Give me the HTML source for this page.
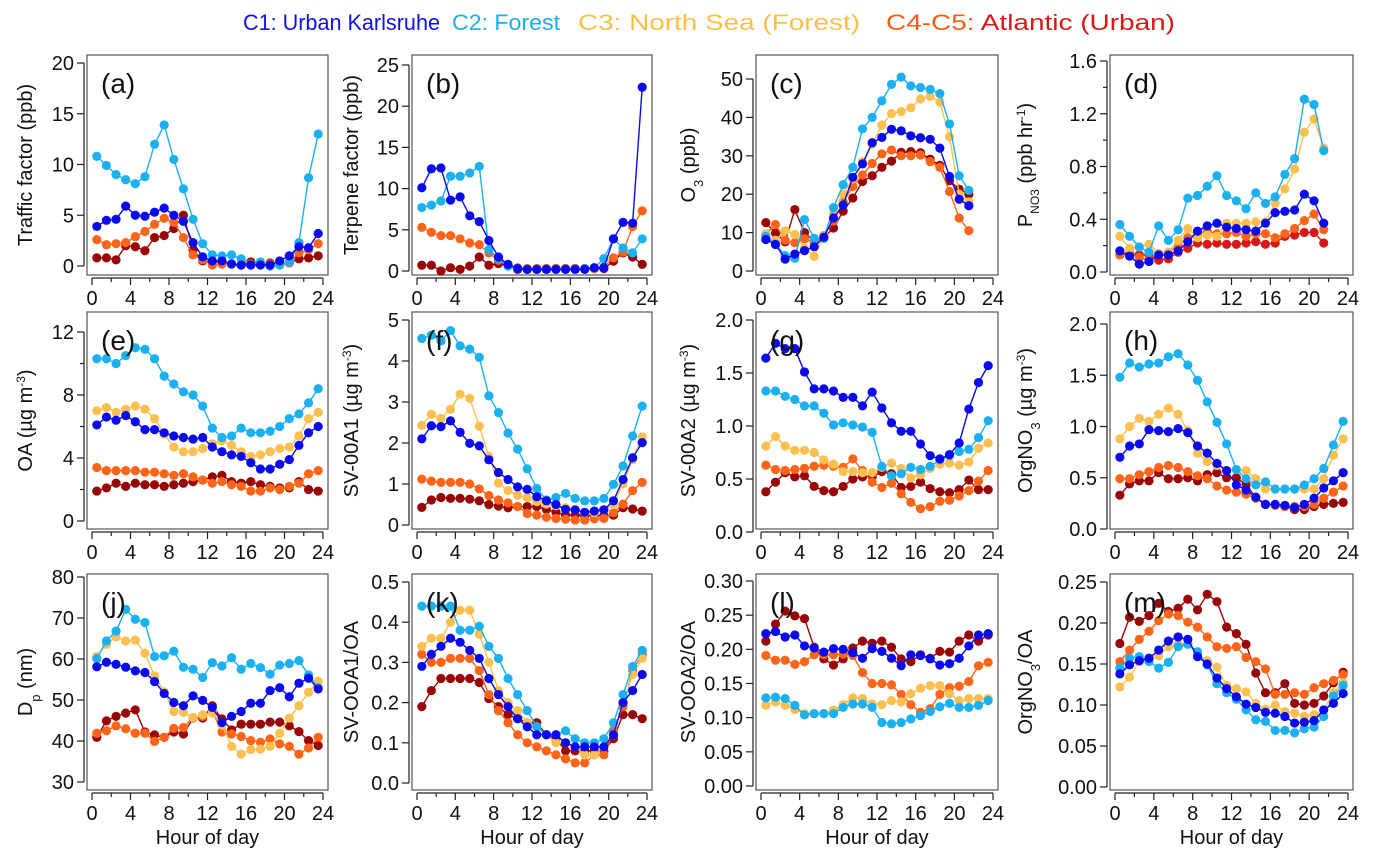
<!DOCTYPE html>
<html><head><meta charset="utf-8"><style>
html,body{margin:0;padding:0;background:#fff;}
svg{display:block;font-family:"Liberation Sans",Arial,sans-serif;}
</style></head><body>
<svg id="chart" width="1373" height="866" viewBox="0 0 1373 866" xmlns="http://www.w3.org/2000/svg">
<g font-size="22">
<text x="243" y="30" textLength="197" lengthAdjust="spacingAndGlyphs" fill="#1010ee">C1: Urban Karlsruhe</text>
<text x="452" y="30" textLength="108" lengthAdjust="spacingAndGlyphs" fill="#19aff0">C2: Forest</text>
<text x="578" y="30" textLength="282" lengthAdjust="spacingAndGlyphs" fill="#fdbf4a">C3: North Sea (Forest)</text>
<text x="886" y="30" textLength="289" lengthAdjust="spacingAndGlyphs"><tspan fill="#ff5a10">C4-C5: </tspan><tspan fill="#d81818">Atlantic (Urban)</tspan></text>
</g>
</svg>
<script>
const hours = [0.5,1.5,2.5,3.5,4.5,5.5,6.5,7.5,8.5,9.5,10.5,11.5,12.5,13.5,14.5,15.5,16.5,17.5,18.5,19.5,20.5,21.5,22.5,23.5];
const xTicks = [0,4,8,12,16,20,24];
// (a) traffic factor
const a_c1 = [3.9,4.5,4.6,5.9,5.0,4.9,5.3,5.7,5.0,4.4,2.3,0.9,0.5,0.5,0.2,0.1,0.1,0.1,0.1,0.5,1.0,1.9,1.8,3.2];
const a_c2 = [10.8,9.9,9.0,8.5,8.1,8.8,12,13.9,10.5,7.6,4.6,2.2,1.1,1.0,1.1,0.7,0.1,0.4,0.0,0.1,0.4,2.3,8.7,13.0];
const a_c3 = [];
const a_c4 = [2.6,2.1,2.2,2.3,2.9,3.4,4.1,4.7,4.3,2.8,1.1,0.6,0.1,0.2,0.2,0.1,0.2,0.3,0.2,0.1,0.3,1.3,1.6,2.2];
const a_c5 = [0.8,0.8,0.6,2.0,1.9,1.5,2.8,3.0,3.7,5.0,1.6,0.5,0.4,0.4,0.2,0.1,0.4,0.2,0.3,0.2,0.3,0.7,0.8,1.0];
// (b) terpene factor
const b_c1 = [10.1,12.4,12.5,8.6,9.0,6.7,6.0,3.7,1.7,0.8,0.3,0.2,0.2,0.2,0.2,0.2,0.2,0.2,0.4,0.4,3.9,5.9,5.8,22.3];
const b_c2 = [7.7,8.0,8.5,11.5,11.5,11.9,12.7,2.6,1.5,0.6,0.3,0.2,0.2,0.2,0.2,0.2,0.2,0.3,0.4,1.5,3.9,2.8,2.2,3.9];
const b_c3 = [];
const b_c4 = [5.3,4.7,4.3,4.3,3.9,3.4,3.2,2.2,1.3,0.7,0.4,0.3,0.3,0.3,0.3,0.3,0.3,0.3,0.3,0.5,1.6,2.3,5.4,7.3];
const b_c5 = [0.7,0.7,0.0,0.4,0.2,0.6,1.7,0.7,0.9,0.6,0.2,0.2,0.2,0.3,0.3,0.3,0.3,0.3,0.3,0.3,1.2,2.2,1.7,0.8];
// (c) O3
const c_c1 = [8.2,6.9,3.1,4.4,5.3,6.3,8.8,13.8,17.2,24.4,27.9,33.4,34.8,36.9,36.5,35.2,34.7,34.3,32,24.6,18.7,17];
const c_c2 = [9,7,4,3.3,13.4,8.5,8.5,16.5,22.5,27,37,40,44.3,48.6,50.5,48.2,47.8,47.3,46.2,38.3,24.8,21];
const c_c3 = [9.5,8,10.5,9.5,6,3.8,9,15,20,24,28.5,33,38,41,41.5,42.5,44.8,45.5,44,35,20,18];
const c_c4 = [9.6,12.1,8,7.4,8.4,7.5,9.2,13,18,22,25,28,30.5,31.5,30,30,30.2,28.5,27,20.7,13.8,10.5];
const c_c5 = [12.6,9.9,7.6,16,10,7.7,8.7,11.2,15.6,19,23.3,24.8,27,28.6,30.9,31.1,30.8,29.1,27.5,23.5,21.3,20];
// (d) P_NO3
const d_c1 = [0.16,0.12,0.06,0.08,0.13,0.13,0.16,0.23,0.31,0.35,0.37,0.34,0.33,0.32,0.31,0.37,0.45,0.46,0.47,0.59,0.54,0.37];
const d_c2 = [0.36,0.27,0.19,0.15,0.35,0.24,0.32,0.56,0.58,0.65,0.73,0.58,0.54,0.48,0.60,0.52,0.57,0.74,0.86,1.31,1.27,0.92];
const d_c3 = [0.27,0.18,0.19,0.21,0.14,0.15,0.24,0.33,0.26,0.28,0.27,0.37,0.37,0.37,0.38,0.38,0.52,0.63,0.78,1.06,1.16,0.94];
const d_c4 = [0.13,0.14,0.11,0.09,0.14,0.15,0.20,0.26,0.29,0.31,0.29,0.29,0.30,0.27,0.29,0.29,0.26,0.29,0.33,0.39,0.44,0.32];
const d_c5 = [0.13,0.14,0.13,0.13,0.09,0.10,0.15,0.18,0.22,0.21,0.22,0.21,0.21,0.22,0.23,0.21,0.22,0.27,0.28,0.30,0.30,0.22];
// (e) OA
const e_c1 = [6.1,6.6,6.4,6.7,6.3,5.8,5.8,5.6,5.4,5.3,5.2,5.3,4.7,4.4,4.2,4.1,3.7,3.3,3.3,3.6,3.9,4.8,5.6,6.0];
const e_c2 = [10.3,10.3,10.0,10.5,11.0,10.9,10.3,9.2,8.7,8.2,8.0,7.3,5.9,5.3,5.4,5.9,5.6,5.6,5.7,6.0,6.5,6.8,7.5,8.4];
const e_c3 = [7.0,7.2,6.9,7.1,7.3,7.1,6.5,5.5,4.7,4.4,4.4,4.6,4.9,5.1,4.8,4.4,4.1,4.2,4.4,4.6,4.7,5.4,6.5,6.9];
const e_c4 = [3.4,3.2,3.2,3.2,3.2,3.1,3.1,3.0,2.9,3.0,2.8,2.6,2.4,2.5,2.3,2.2,1.9,1.9,2.1,2.0,2.2,2.4,3.0,3.2];
const e_c5 = [1.9,2.1,2.4,2.2,2.4,2.3,2.3,2.2,2.3,2.4,2.5,2.6,2.8,2.9,2.5,2.4,2.5,2.3,2.2,2.1,2.1,2.5,2.0,1.9];
// (f) SV-OOA1
const f_c1 = [2.10,2.42,2.40,2.54,2.26,1.99,1.93,1.59,1.28,1.11,0.93,0.87,0.69,0.59,0.50,0.38,0.37,0.31,0.34,0.37,0.59,1.11,1.64,2.01];
const f_c2 = [4.55,4.63,4.49,4.74,4.37,4.29,4.09,3.15,2.74,2.24,1.85,1.37,0.89,0.61,0.67,0.77,0.65,0.59,0.59,0.65,0.99,1.44,2.17,2.90];
const f_c3 = [2.43,2.70,2.60,2.82,3.19,3.09,2.41,1.67,1.02,0.84,0.73,0.67,0.57,0.51,0.47,0.42,0.37,0.30,0.30,0.37,0.50,1.00,1.59,2.15];
const f_c4 = [1.12,1.07,1.04,1.04,1.04,1.00,0.88,0.72,0.61,0.54,0.45,0.28,0.24,0.19,0.16,0.14,0.12,0.12,0.15,0.16,0.30,0.51,0.84,1.04];
const f_c5 = [0.43,0.61,0.67,0.65,0.65,0.63,0.59,0.50,0.46,0.42,0.45,0.45,0.45,0.38,0.31,0.24,0.24,0.23,0.23,0.23,0.24,0.42,0.39,0.34];
// (g) SV-OOA2
const g_c1 = [1.64,1.78,1.73,1.73,1.51,1.35,1.35,1.33,1.27,1.27,1.19,1.32,1.17,1.03,0.95,0.95,0.83,0.72,0.69,0.73,0.84,1.16,1.41,1.57];
const g_c2 = [1.33,1.33,1.28,1.25,1.19,1.19,1.12,1.01,1.03,1.01,0.99,0.94,0.62,0.53,0.55,0.61,0.59,0.62,0.68,0.72,0.76,0.78,0.89,1.05];
const g_c3 = [0.81,0.90,0.81,0.77,0.77,0.75,0.68,0.64,0.57,0.57,0.56,0.56,0.61,0.65,0.60,0.51,0.54,0.60,0.64,0.65,0.63,0.66,0.79,0.84];
const g_c4 = [0.63,0.59,0.58,0.59,0.60,0.62,0.63,0.62,0.61,0.69,0.58,0.47,0.42,0.46,0.36,0.28,0.22,0.24,0.29,0.30,0.34,0.39,0.48,0.58];
const g_c5 = [0.38,0.47,0.56,0.52,0.53,0.43,0.39,0.38,0.43,0.50,0.52,0.52,0.57,0.55,0.42,0.43,0.47,0.41,0.38,0.37,0.40,0.49,0.40,0.40];
// (h) OrgNO3
const h_c1 = [0.70,0.81,0.83,0.97,0.96,0.95,0.98,0.94,0.81,0.74,0.64,0.57,0.43,0.38,0.31,0.24,0.24,0.23,0.21,0.24,0.30,0.40,0.47,0.55];
const h_c2 = [1.48,1.62,1.58,1.61,1.62,1.68,1.71,1.60,1.45,1.24,1.04,0.83,0.58,0.49,0.43,0.46,0.39,0.39,0.39,0.43,0.49,0.59,0.82,1.05];
const h_c3 = [0.88,1.00,1.08,1.05,1.12,1.18,1.12,0.96,0.74,0.66,0.62,0.57,0.58,0.57,0.49,0.39,0.39,0.39,0.39,0.39,0.39,0.49,0.72,0.88];
const h_c4 = [0.49,0.49,0.53,0.56,0.60,0.62,0.60,0.56,0.52,0.49,0.42,0.38,0.36,0.34,0.30,0.24,0.23,0.22,0.22,0.22,0.24,0.30,0.36,0.42];
const h_c5 = [0.33,0.44,0.47,0.47,0.55,0.49,0.49,0.50,0.47,0.53,0.55,0.50,0.50,0.43,0.31,0.24,0.23,0.22,0.19,0.19,0.22,0.24,0.25,0.26];
// (j) Dp
const j_c1 = [58.1,59.2,58.7,58.0,57.1,56.7,54.5,51.6,49.4,48.6,51.0,49.9,48.2,44.5,46.0,47.2,49.2,49.2,52.3,53.0,50.8,54.1,55.3,52.7];
const j_c2 = [60.1,64.4,66.8,72.1,69.7,68.9,60.6,60.8,61.9,58.0,57.5,55.5,59.1,58.3,60.3,57.5,58.9,57.9,56.3,58.5,58.9,59.6,56.1,53.0];
const j_c3 = [60.6,63.6,65.4,64.4,64.6,61.4,55.9,52.0,47.2,47.0,45.7,46.4,46.8,43.9,38.7,36.8,37.9,38.0,38.7,41.9,45.6,48.6,51.9,54.6];
const j_c4 = [41.9,42.5,43.7,43.0,41.9,41.9,39.9,40.9,43.1,43.3,45.7,46.0,47.2,42.2,41.7,41.1,40.1,39.7,40.5,39.3,38.7,36.8,38.3,40.9];
const j_c5 = [40.9,44.9,46.0,46.8,47.6,42.2,41.5,40.9,42.2,41.7,45.6,45.6,48.6,45.4,42.7,44.1,44.1,44.1,44.6,44.6,43.7,42.3,40.1,38.9];
// (k) SV-OOA1/OA
const k_c1 = [0.29,0.32,0.34,0.36,0.35,0.33,0.31,0.26,0.22,0.19,0.16,0.14,0.12,0.12,0.12,0.10,0.09,0.09,0.09,0.09,0.12,0.20,0.23,0.27];
const k_c2 = [0.44,0.44,0.44,0.44,0.38,0.38,0.39,0.34,0.31,0.26,0.22,0.18,0.14,0.12,0.12,0.13,0.11,0.10,0.10,0.11,0.15,0.22,0.29,0.33];
const k_c3 = [0.34,0.36,0.36,0.40,0.43,0.43,0.37,0.30,0.23,0.20,0.18,0.15,0.14,0.12,0.10,0.10,0.09,0.07,0.07,0.09,0.12,0.20,0.27,0.31];
const k_c4 = [0.32,0.30,0.30,0.31,0.31,0.31,0.28,0.22,0.18,0.15,0.12,0.10,0.09,0.08,0.07,0.06,0.05,0.05,0.07,0.07,0.13,0.19,0.28,0.32];
const k_c5 = [0.19,0.23,0.26,0.26,0.26,0.26,0.25,0.21,0.19,0.17,0.16,0.15,0.15,0.12,0.11,0.08,0.08,0.08,0.08,0.08,0.11,0.17,0.17,0.16];
// (l) SV-OOA2/OA
const l_c1 = [0.223,0.226,0.218,0.221,0.205,0.202,0.196,0.201,0.200,0.195,0.187,0.201,0.197,0.187,0.176,0.192,0.191,0.186,0.177,0.179,0.187,0.205,0.221,0.223];
const l_c2 = [0.129,0.130,0.128,0.118,0.104,0.106,0.106,0.106,0.115,0.120,0.120,0.115,0.093,0.091,0.093,0.098,0.103,0.109,0.116,0.121,0.115,0.115,0.118,0.125];
const l_c3 = [0.118,0.123,0.118,0.112,0.106,0.106,0.106,0.111,0.119,0.129,0.128,0.120,0.119,0.125,0.123,0.135,0.143,0.147,0.147,0.135,0.125,0.128,0.128,0.128];
const l_c4 = [0.191,0.184,0.184,0.178,0.182,0.192,0.192,0.192,0.193,0.191,0.166,0.150,0.150,0.148,0.134,0.119,0.108,0.113,0.134,0.144,0.146,0.153,0.176,0.181];
const l_c5 = [0.212,0.237,0.256,0.249,0.245,0.203,0.186,0.177,0.186,0.202,0.212,0.209,0.212,0.203,0.186,0.182,0.192,0.187,0.197,0.196,0.212,0.221,0.212,0.221];
// (m) OrgNO3/OA
const m_c1 = [0.138,0.149,0.154,0.157,0.167,0.178,0.183,0.180,0.159,0.150,0.133,0.120,0.110,0.101,0.097,0.091,0.090,0.086,0.078,0.079,0.081,0.094,0.102,0.114];
const m_c2 = [0.145,0.157,0.159,0.153,0.145,0.152,0.171,0.174,0.165,0.149,0.126,0.115,0.107,0.094,0.082,0.080,0.069,0.069,0.066,0.071,0.073,0.086,0.111,0.124];
const m_c3 = [0.122,0.134,0.153,0.154,0.160,0.171,0.174,0.175,0.161,0.154,0.146,0.124,0.120,0.116,0.102,0.095,0.100,0.092,0.090,0.086,0.088,0.094,0.115,0.127];
const m_c4 = [0.153,0.167,0.180,0.190,0.203,0.211,0.209,0.201,0.195,0.183,0.171,0.169,0.171,0.158,0.153,0.144,0.113,0.113,0.115,0.113,0.121,0.126,0.130,0.137];
const m_c5 = [0.175,0.207,0.202,0.209,0.224,0.214,0.218,0.229,0.216,0.235,0.226,0.195,0.187,0.174,0.139,0.115,0.115,0.126,0.102,0.100,0.102,0.111,0.127,0.140];

const NS = 'http://www.w3.org/2000/svg';
const svg = document.getElementById('chart');
function mk(tag, attrs, parent){ const e=document.createElementNS(NS,tag); for(const k in attrs) e.setAttribute(k,attrs[k]); (parent||svg).appendChild(e); return e; }

const cols = [[87,328],[412,652],[756,998],[1110,1353]];
const rows = [[55,275],[312,529],[574,790]];
const colors = ['#0a0af0','#1ab0f2','#fdc050','#ff6418','#9a0606'];
const colorsD = ['#0a0af0','#1ab0f2','#fdc050','#ff6418','#d81818'];
const labelX = [32,358,695,1032];

const panels = [
 {id:'a',c:0,r:0,min:0,max:20,p0:266,p1:63,ticks:[0,5,10,15,20],dec:0,ylab:'Traffic factor (ppb)',s:[a_c1,a_c2,a_c3,a_c4,a_c5]},
 {id:'b',c:1,r:0,min:0,max:25,p0:271,p1:65,ticks:[0,5,10,15,20,25],dec:0,ylab:'Terpene factor (ppb)',s:[b_c1,b_c2,b_c3,b_c4,b_c5]},
 {id:'c',c:2,r:0,min:0,max:50,p0:271,p1:79,ticks:[0,10,20,30,40,50],dec:0,ylab:'O<tspan baseline-shift="sub" font-size="13">3</tspan> (ppb)',s:[c_c1,c_c2,c_c3,c_c4,c_c5]},
 {id:'d',c:3,r:0,min:0,max:1.6,p0:272,p1:61,ticks:[0,0.4,0.8,1.2,1.6],minor:0.2,dec:1,ylab:'P<tspan baseline-shift="sub" font-size="12">NO3</tspan> (ppb hr<tspan baseline-shift="super" font-size="12">-1</tspan>)',s:[d_c1,d_c2,d_c3,d_c4,d_c5],dcol:true},
 {id:'e',c:0,r:1,min:0,max:12,p0:521,p1:332,ticks:[0,4,8,12],minor:2,dec:0,ylab:'OA (µg m<tspan baseline-shift="super" font-size="12">-3</tspan>)',s:[e_c1,e_c2,e_c3,e_c4,e_c5]},
 {id:'f',c:1,r:1,min:0,max:5,p0:525,p1:320,ticks:[0,1,2,3,4,5],dec:0,ylab:'SV-00A1 (µg m<tspan baseline-shift="super" font-size="12">-3</tspan>)',s:[f_c1,f_c2,f_c3,f_c4,f_c5]},
 {id:'g',c:2,r:1,min:0,max:2,p0:532,p1:320,ticks:[0,0.5,1,1.5,2],dec:1,ylab:'SV-00A2 (µg m<tspan baseline-shift="super" font-size="12">-3</tspan>)',s:[g_c1,g_c2,g_c3,g_c4,g_c5]},
 {id:'h',c:3,r:1,min:0,max:2,p0:529,p1:324,ticks:[0,0.5,1,1.5,2],dec:1,ylab:'OrgNO<tspan baseline-shift="sub" font-size="13">3</tspan> (µg m<tspan baseline-shift="super" font-size="12">-3</tspan>)',s:[h_c1,h_c2,h_c3,h_c4,h_c5]},
 {id:'j',c:0,r:2,min:30,max:80,p0:782,p1:577,ticks:[30,40,50,60,70,80],dec:0,ylab:'D<tspan baseline-shift="sub" font-size="13">p</tspan> (nm)',s:[j_c1,j_c2,j_c3,j_c4,j_c5]},
 {id:'k',c:1,r:2,min:0,max:0.5,p0:783,p1:582,ticks:[0,0.1,0.2,0.3,0.4,0.5],dec:1,ylab:'SV-OOA1/OA',s:[k_c1,k_c2,k_c3,k_c4,k_c5]},
 {id:'l',c:2,r:2,min:0,max:0.3,p0:786,p1:581,ticks:[0,0.05,0.1,0.15,0.2,0.25,0.3],dec:2,ylab:'SV-OOA2/OA',s:[l_c1,l_c2,l_c3,l_c4,l_c5]},
 {id:'m',c:3,r:2,min:0,max:0.25,p0:787,p1:582,ticks:[0,0.05,0.1,0.15,0.2,0.25],dec:2,ylab:'OrgNO<tspan baseline-shift="sub" font-size="13">3</tspan>/OA',s:[m_c1,m_c2,m_c3,m_c4,m_c5]}
];
const seriesNames=['c1-urban-karlsruhe','c2-forest','c3-north-sea','c4-atlantic','c5-atlantic-urban'];
const drawOrder=[4,3,2,1,0];

panels.forEach(P=>{
  const L=cols[P.c][0], R=cols[P.c][1], T=rows[P.r][0], B=rows[P.r][1];
  const xs = v => (L+5) + v/24*((R-5)-(L+5));
  const ys = v => P.p0 + (v-P.min)/(P.max-P.min)*(P.p1-P.p0);
  const g = mk('g',{});
  
  
  const box = mk('rect',{x:L,y:T,width:R-L,height:B-T,fill:'none',stroke:'#555','stroke-width':1.2},g);
  
  
  const ax = mk('g',{stroke:'#222','stroke-width':1.2},g);
  
  
  const xa=B+3;
  mk('line',{x1:xs(0),x2:xs(24),y1:xa,y2:xa},ax);
  for(let h=0;h<=24;h+=2){ mk('line',{x1:xs(h),x2:xs(h),y1:xa,y2:xa+(h%4===0?7:4)},ax); }
  xTicks.forEach(t=>{
    const tx=mk('text',{x:xs(t),y:B+30,'text-anchor':'middle','font-size':20,fill:'#111',stroke:'none'},g);
    
    
    tx.textContent=t;
  });
  const ay = mk('g',{stroke:'#222','stroke-width':1.2},g);
  
  
  const yx=L-3;
  mk('line',{x1:yx,x2:yx,y1:ys(P.min),y2:ys(P.max)},ay);
  P.ticks.forEach(t=>{
    mk('line',{x1:yx-7,x2:yx,y1:ys(t),y2:ys(t)},ay);
    const tx=mk('text',{x:yx-10,y:ys(t)+7,'text-anchor':'end','font-size':20,fill:'#111',stroke:'none'},g);
    
    
    tx.textContent=t.toFixed(P.dec);
  });
  if(P.minor){ for(let v=P.min+P.minor; v<P.max; v+=P.minor*2){ mk('line',{x1:yx-4,x2:yx,y1:ys(v),y2:ys(v)},ay);} }
  const cy=(T+B)/2;
  const yt=mk('text',{x:labelX[P.c],y:cy,'text-anchor':'middle','font-size':20,fill:'#111',transform:'rotate(-90 '+labelX[P.c]+' '+cy+')'},g);
  
  
  yt.innerHTML=P.ylab;
  if(P.r===2){
    const xt=mk('text',{x:(L+R)/2,y:B+54,'text-anchor':'middle','font-size':20,fill:'#111'},g);
    
    
    xt.textContent='Hour of day';
  }
  drawOrder.forEach(si=>{
    const arr=P.s[si]; if(!arr.length) return;
    const col=(P.dcol?colorsD:colors)[si];
    const sg=mk('g',{},g);
    
    
    const pts=arr.map((v,i)=>xs(hours[i]).toFixed(1)+','+ys(v).toFixed(1)).join(' ');
    mk('polyline',{points:pts,fill:'none',stroke:col,'stroke-width':1.4},sg);
    arr.forEach((v,i)=>{
      const c=mk('circle',{cx:xs(hours[i]),cy:ys(v),r:4.6,fill:col},sg);
      
      
    });
  });
  const pl=mk('text',{x:L+14,y:T+38,'font-size':28,fill:'#111'},g);
  
  
  pl.textContent='('+P.id+')';
});
</script>
</body></html>
